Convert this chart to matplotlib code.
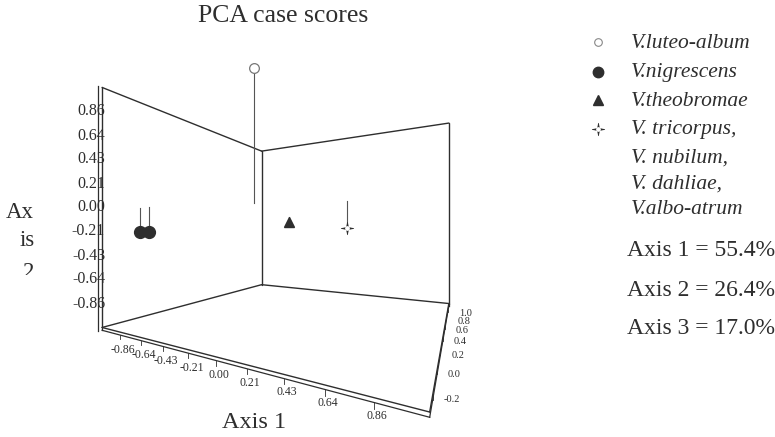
import numpy as np
import matplotlib
matplotlib.use("Agg")
import matplotlib.pyplot as plt
from matplotlib.path import Path
from matplotlib.lines import Line2D
from matplotlib.transforms import Bbox, ScaledTranslation
from mpl_toolkits.mplot3d import proj3d

# ---- PCA case scores (axis 1, axis 2 = vertical, axis 3 = depth) ----
luteo_axis1 = [0.07]
luteo_axis2 = [1.03]
luteo_axis3 = [-0.11]

nigrescens_axis1 = [-0.84, -0.78]
nigrescens_axis2 = [-0.22, -0.22]
nigrescens_axis3 = [-0.20, -0.18]

theobromae_axis1 = [-0.63]
theobromae_axis2 = [-0.08]
theobromae_axis3 = [1.14]

tricorpus_axis1 = [0.62]
tricorpus_axis2 = [-0.19]
tricorpus_axis3 = [-0.03]

legend_lines = [
    ["V.luteo-album"],
    ["V.nigrescens"],
    ["V.theobromae"],
    ["V. tricorpus,", "V. nubilum,", "V. dahliae,", "V.albo-atrum"],
]
variance_labels = ["Axis 1 = 55.4%", "Axis 2 = 26.4%", "Axis 3 = 17.0%"]

axis1_ticks = [-0.86, -0.64, -0.43, -0.21, 0.00, 0.21, 0.43, 0.64, 0.86]
axis2_ticks = [-0.86, -0.64, -0.43, -0.21, 0.00, 0.21, 0.43, 0.64, 0.86]
axis3_ticks = [-0.2, 0.0, 0.2, 0.4, 0.6, 0.8, 1.0]
axis1_lim = (-1.071, 1.071)
axis2_lim = (-1.071, 1.071)
axis3_lim = (-0.30, 1.20)
eye_level = -0.21          # axis-2 height of the camera

INK = "#2e2e2e"
SPIKE = "#555555"
plt.rcParams["font.family"] = ["Liberation Serif", "DejaVu Serif"]


def star_marker(inner=0.22):
    verts = []
    for k in range(8):
        ang = np.pi / 2 + k * np.pi / 4
        r = 1.0 if k % 2 == 0 else inner
        verts.append((r * np.cos(ang), r * np.sin(ang)))
    verts.append(verts[0])
    codes = [Path.MOVETO] + [Path.LINETO] * 7 + [Path.CLOSEPOLY]
    return Path(verts, codes)


STAR = star_marker()

fig = plt.figure(figsize=(7.75, 4.37), dpi=100)
fig.patch.set_facecolor("white")

ax = fig.add_axes([0.1115, -0.0174, 0.5368, 0.9519], projection="3d",
                  proj_type="persp", focal_length=0.1352,
                  computed_zorder=False)
x0, x1 = axis1_lim
y0, y1 = axis3_lim
z0, z1 = axis2_lim
# the camera looks horizontally at the middle of the view volume, so the
# vertical view range is centred on the eye level
view_z = (2 * eye_level - z1, z1)
ax.set_xlim(x0, x1)
ax.set_ylim(y0, y1)
ax.set_zlim(*view_z)
ax.set_box_aspect((1.26 * (x1 - x0), 1.633 * (y1 - y0), view_z[1] - view_z[0]))
ax.view_init(elev=0, azim=-62)
ax.set_axis_off()

M = ax.get_proj()


def px_offset(dx, dy):
    return ax.transData + ScaledTranslation(dx / 100.0, dy / 100.0,
                                            fig.dpi_scale_trans)


def label3d(x, y, z, s, dx, dy, **kw):
    """Place a 2-D label at the projection of a 3-D point, shifted in pixels."""
    px, py, _ = proj3d.proj_transform(np.array([x], float), np.array([y], float),
                                      np.array([z], float), M)
    ax.text2D(px[0], py[0], s, transform=px_offset(dx, dy), **kw)


def seg(p, q, **kw):
    ax.plot([p[0], q[0]], [p[1], q[1]], [p[2], q[2]], **kw)


box_kw = dict(color=INK, lw=1.0, zorder=1, solid_capstyle="round")
# walls at axis1 = min and axis3 = max, plus the floor
seg((x0, y0, z0), (x0, y0, z1), **box_kw)
seg((x0, y1, z0), (x0, y1, z1), **box_kw)
seg((x1, y1, z0), (x1, y1, z1), **box_kw)
seg((x0, y0, z1), (x0, y1, z1), **box_kw)
seg((x0, y1, z1), (x1, y1, z1), **box_kw)
seg((x0, y0, z0), (x0, y1, z0), **box_kw)
seg((x0, y1, z0), (x1, y1, z0), **box_kw)
seg((x0, y0, z0), (x1, y0, z0), **box_kw)
seg((x1, y0, z0), (x1, y1, z0), **box_kw)

# thin slabs carrying the three scales
dz = 0.025
dy_front = 0.02
slab_kw = dict(color=INK, lw=0.9, zorder=1)
seg((x0, y0, z0 - dz), (x1, y0, z0 - dz), **slab_kw)
seg((x1, y0, z0 - dz), (x1, y1, z0 - dz), **slab_kw)
seg((x0, y0, z0), (x0, y0, z0 - dz), **slab_kw)
seg((x1, y1, z0), (x1, y1, z0 - dz), **slab_kw)
seg((x0, y0 - dy_front, z0 - dz), (x0, y0 - dy_front, z1), **slab_kw)

tick_kw = dict(color=INK, lw=0.6, zorder=1)
for v in axis1_ticks:
    seg((v, y0, z0 - dz), (v, y0, z0 - dz - 0.035), **tick_kw)
    label3d(v, y0, z0, f"{v:.2f}", 3, -18, ha="center", va="center",
            fontsize=8.5, color=INK)
for w in axis3_ticks:
    seg((x1, w, z0), (x1, w, z0 - dz), **tick_kw)
    label3d(x1, w, z0, f"{w:.1f}", 11, -4, ha="left", va="center",
            fontsize=7.5, color=INK)
for v in axis2_ticks:
    label3d(x0, y0, v, f"{v:.2f}", 3, 0, ha="right", va="center",
            fontsize=11.5, color=INK)

# spikes from each score to the axis-2 zero plane
groups = [
    (luteo_axis1, luteo_axis2, luteo_axis3),
    (nigrescens_axis1, nigrescens_axis2, nigrescens_axis3),
    (theobromae_axis1, theobromae_axis2, theobromae_axis3),
    (tricorpus_axis1, tricorpus_axis2, tricorpus_axis3),
]
for a1, a2, a3 in groups:
    for u, z, w in zip(a1, a2, a3):
        seg((u, w, 0.0), (u, w, z), color=SPIKE, lw=0.8, zorder=2)

ax.plot(luteo_axis1, luteo_axis3, luteo_axis2, ls="none", marker="o", ms=7,
        mfc="white", mec="#777777", mew=0.9, zorder=3)
ax.plot(nigrescens_axis1, nigrescens_axis3, nigrescens_axis2, ls="none",
        marker="o", ms=8.5, mfc=INK, mec=INK, zorder=3)
ax.plot(theobromae_axis1, theobromae_axis3, theobromae_axis2, ls="none",
        marker="^", ms=7.5, mfc=INK, mec=INK, zorder=3)
ax.plot(tricorpus_axis1, tricorpus_axis3, tricorpus_axis2, ls="none",
        marker=STAR, ms=9, mfc=INK, mec=INK, mew=0.5, zorder=3)
ax.plot(tricorpus_axis1, tricorpus_axis3, tricorpus_axis2, ls="none",
        marker="o", ms=2.4, mfc="white", mec="white", zorder=4)

W, H = 775.0, 437.0


def fx(px):
    return px / W


def fy(py):
    return 1.0 - py / H


fig.text(fx(283), fy(16), "PCA case scores", ha="center", va="center",
         fontsize=18.5, color=INK)
fig.text(fx(254), fy(422), "Axis 1", ha="center", va="center",
         fontsize=17.5, color=INK)
fig.text(fx(20), fy(212), "Ax", ha="center", va="center", fontsize=16.5,
         color=INK)
fig.text(fx(27), fy(240), "is", ha="center", va="center", fontsize=16.5,
         color=INK)
two = fig.text(fx(29), fy(273), "2", ha="center", va="center", fontsize=16.5,
               color=INK)
two.set_clip_box(Bbox([[0, H - 275], [60, H - 250]]))
two.set_clip_on(True)

# legend
leg_x = fx(598)
text_x = fx(631)
line_rows = [[42], [72], [100], [129, 157, 183, 208]]
fig.add_artist(Line2D([leg_x], [fy(42)], transform=fig.transFigure,
                      marker="o", ms=5.5, mfc="white", mec="#888888",
                      mew=0.8, ls="none"))
fig.add_artist(Line2D([leg_x], [fy(72)], transform=fig.transFigure,
                      marker="o", ms=7.5, mfc=INK, mec=INK, ls="none"))
fig.add_artist(Line2D([leg_x], [fy(100)], transform=fig.transFigure,
                      marker="^", ms=7, mfc=INK, mec=INK, ls="none"))
fig.add_artist(Line2D([leg_x], [fy(129)], transform=fig.transFigure,
                      marker=STAR, ms=9, mfc=INK, mec=INK, mew=0.5,
                      ls="none"))
fig.add_artist(Line2D([leg_x], [fy(129)], transform=fig.transFigure,
                      marker="o", ms=2.4, mfc="white", mec="white",
                      ls="none"))
for labels, rows in zip(legend_lines, line_rows):
    for lab, ry in zip(labels, rows):
        fig.text(text_x, fy(ry + 1), lab, ha="left", va="center",
                 fontsize=15.5, style="italic", color=INK)

for lab, ry in zip(variance_labels, [251, 290, 328]):
    fig.text(fx(627), fy(ry), lab, ha="left", va="center", fontsize=17,
             color=INK)

fig.savefig("out.png", dpi=100, facecolor="white")
